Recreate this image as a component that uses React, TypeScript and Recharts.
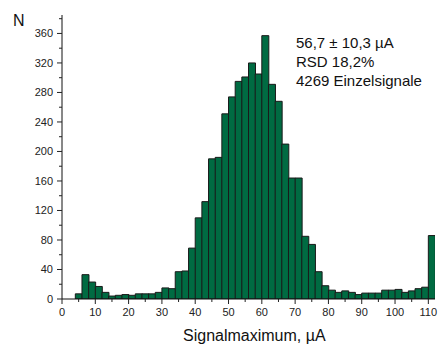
import { BarChart, Bar, XAxis, YAxis } from 'recharts';

// bin starts (µA), bin width 2
const binStarts = [
  4, 6, 8, 10, 12, 14, 16, 18, 20, 22, 24, 26, 28, 30, 32, 34, 36, 38, 40, 42, 44, 46, 48, 50, 52, 54, 56,
  58, 60, 62, 64, 66, 68, 70, 72, 74, 76, 78, 80, 82, 84, 86, 88, 90, 92, 94, 96, 98, 100, 102, 104, 106, 108, 110,
];
const counts = [
  7, 33, 23, 17, 9, 4, 5, 6, 5, 7, 7, 7, 9, 15, 14, 37, 38, 69, 110, 132, 190, 192, 251, 274, 295, 301, 320,
  305, 357, 291, 268, 210, 164, 164, 85, 74, 37, 18, 12, 9, 11, 9, 6, 8, 8, 8, 12, 12, 13, 9, 11, 14, 16, 86,
];
const xTicks = [0, 5, 10, 15, 20, 25, 30, 35, 40, 45, 50, 55, 60, 65, 70, 75, 80, 85, 90, 95, 100, 105, 110];
const yTicks = [0, 20, 40, 60, 80, 100, 120, 140, 160, 180, 200, 220, 240, 260, 280, 300, 320, 340, 360, 380];
const statLines = ['56,7 ± 10,3 µA', 'RSD 18,2%', '4269 Einzelsignale'];

const data = binStarts.map((s, i) => ({ mid: s + 1, n: counts[i] }));

const font = '"Liberation Sans", Arial, sans-serif';

const XTick = (props: any) => {
  const { x, y, payload } = props;
  const major = payload.value % 10 === 0;
  return (
    <g>
      <line x1={x} x2={x} y1={y} y2={y + (major ? 5 : 3)} stroke="#222" />
      {major && (
        <text x={x} y={y + 17} textAnchor="middle" fontSize={11} fill="#222" fontFamily={font}>
          {payload.value}
        </text>
      )}
    </g>
  );
};

const YTick = (props: any) => {
  const { x, y, payload } = props;
  const major = payload.value % 40 === 0;
  return (
    <g>
      <line x1={x} x2={x - (major ? 5 : 3)} y1={y} y2={y} stroke="#222" />
      {major && (
        <text x={x - 9} y={y + 4} textAnchor="end" fontSize={11} fill="#222" fontFamily={font}>
          {payload.value}
        </text>
      )}
    </g>
  );
};

export default function App() {
  return (
    <div style={{ position: 'absolute', left: 0, top: 0, width: 442, height: 350, background: '#fff', fontFamily: font, color: '#111' }}>
      <BarChart width={442} height={350} data={data} margin={{ top: 15, right: 7, left: 0, bottom: 0 }} barCategoryGap={0} barGap={0}>
        <XAxis
          type="number"
          dataKey="mid"
          domain={[0, 112]}
          ticks={xTicks}
          interval={0}
          height={51}
          tickSize={0}
          tickMargin={0}
          tickLine={false}
          tick={<XTick />}
          stroke="#111"
          allowDataOverflow
        />
        <YAxis
          domain={[0, 385]}
          ticks={yTicks}
          interval={0}
          width={62}
          tickSize={0}
          tickMargin={0}
          tickLine={false}
          tick={<YTick />}
          stroke="#111"
          allowDataOverflow
        />
        <Bar dataKey="n" fill="#006B42" stroke="#1a1a1a" strokeWidth={1} isAnimationActive={false} />
      </BarChart>
      <div style={{ position: 'absolute', left: 13, top: 13, fontSize: 16, lineHeight: '16px' }}>N</div>
      <div style={{ position: 'absolute', left: 296, top: 33, fontSize: 15, lineHeight: '19px', whiteSpace: 'nowrap' }}>
        {statLines.map((l) => (
          <div key={l}>{l}</div>
        ))}
      </div>
      <div style={{ position: 'absolute', left: 183, top: 328, fontSize: 16, lineHeight: '16px', whiteSpace: 'nowrap' }}>
        Signalmaximum, µA
      </div>
    </div>
  );
}
